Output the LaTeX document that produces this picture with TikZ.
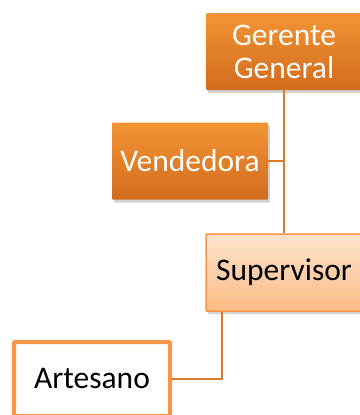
\documentclass[tikz,border=0pt]{standalone}
\usepackage{fontspec}
\setmainfont{Carlito}
\usetikzlibrary{positioning, shadows}
\definecolor{naranja}{RGB}{247,150,70}
\definecolor{naranjaclaro}{RGB}{243,148,52}
\definecolor{naranjaoscuro}{RGB}{210,108,30}
\definecolor{durazno}{RGB}{253,228,208}
\definecolor{duraznoosc}{RGB}{251,187,132}
\definecolor{linea}{RGB}{214,122,48}

\begin{document}
\begin{tikzpicture}[x=1pt, y=-1pt,
  caja/.style={minimum width=156pt, minimum height=77pt, inner sep=0pt, align=center,
    rounded corners=1pt, font=\fontsize{31.5}{33}\selectfont},
  fuerte/.style={caja, top color=naranjaclaro, bottom color=naranjaoscuro, text=white,
    drop shadow={shadow xshift=2pt, shadow yshift=-3pt, opacity=0.35}},
  suave/.style={caja, top color=durazno, bottom color=duraznoosc, draw=naranja, line width=1.5pt,
    drop shadow={shadow xshift=2pt, shadow yshift=-3pt, opacity=0.35}},
  blanca/.style={caja, fill=white, draw=naranja, line width=4pt, minimum width=156pt, minimum height=74pt},
  conector/.style={draw=linea, line width=1.5pt}]
\useasboundingbox (0,0) rectangle (359,415);

% cajas
\node[fuerte] (gerente) at (284,51.5) {Gerente\\General};
\node[fuerte] (vendedora) at (190,161) {Vendedora};
\node[suave] (supervisor) at (284,272.5) {Supervisor};
\node[blanca] (artesano) at (92,379) {Artesano};

% lineas
\draw[conector] (gerente.south) -- (supervisor.north);
\draw[conector] (vendedora.east) -- (vendedora.east -| gerente.south);
\draw[conector] (artesano.east) -| ([xshift=-62pt]supervisor.south);

\end{tikzpicture}
\end{document}
